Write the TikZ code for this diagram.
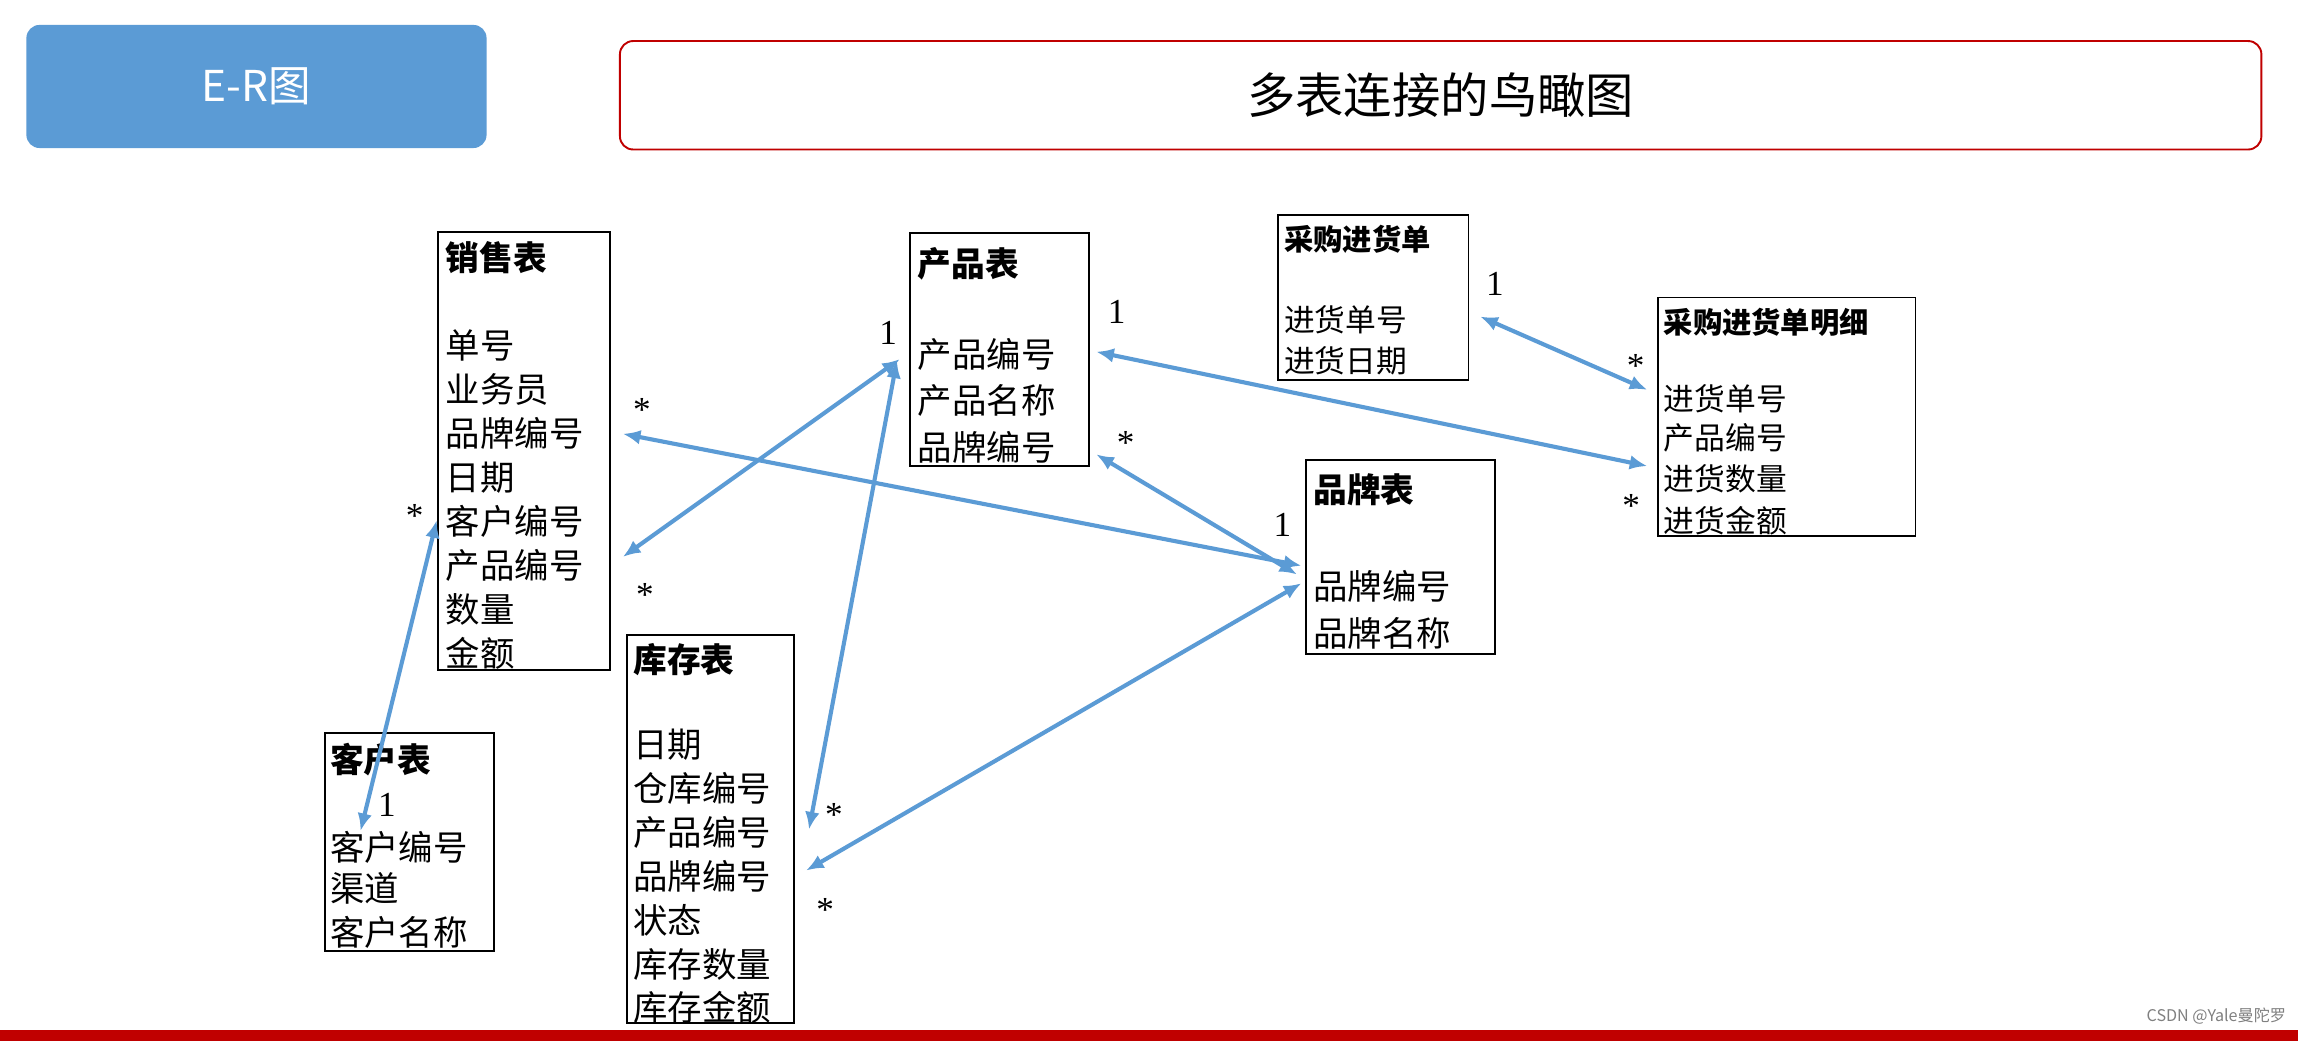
\documentclass[tikz,border=0pt]{standalone}
\usepackage{fontspec}
\setmainfont{Noto Sans CJK SC}
\newfontfamily\lblfont{Liberation Serif}
\usetikzlibrary{arrows.meta}
\definecolor{ablue}{HTML}{5B9BD5}
\definecolor{dred}{HTML}{C00000}
\begin{document}
\begin{tikzpicture}[x=1pt,y=-1pt,
  tbl/.style={draw=black,line width=1.3pt},
  row/.style={anchor=west,inner sep=0pt,font=\fontsize{23.5}{23.5}\selectfont},
  srow/.style={anchor=west,inner sep=0pt,font=\fontsize{21}{21}\selectfont},
  ttl/.style={anchor=west,inner sep=0pt,font=\fontsize{23}{23}\selectfont\bfseries},
  sttl/.style={anchor=west,inner sep=0pt,font=\fontsize{20}{20}\selectfont\bfseries},
  lbl/.style={inner sep=0pt,font=\fontsize{24}{24}\selectfont\lblfont},
  rel/.style={ablue,line width=2.8pt,{Latex[length=12pt,width=10pt]}-{Latex[length=12pt,width=10pt]}}]
\useasboundingbox (0,0) rectangle (1568,710);
\fill[white] (0,0) rectangle (1568,710);
% header
\node[fill=ablue,rounded corners=9pt,minimum width=314pt,minimum height=84pt,text=white,font=\fontsize{29}{29}\selectfont] (er) at (175,59) {E-R图};
\node[draw=dred,line width=1.3pt,rounded corners=9pt,minimum width=1120pt,minimum height=74pt,font=\fontsize{33}{33}\selectfont] (hd) at (983,65) {多表连接的鸟瞰图};
\fill[dred] (0,703) rectangle (1568,710);
\node[anchor=east,inner sep=0pt,text=gray,font=\fontsize{11}{11}\selectfont] (wm) at (1560,693) {CSDN @Yale曼陀罗};
% 销售表
\draw[tbl] (299,158) rectangle (416,457);
\node[ttl] (s0) at (304,176) {销售表};
\node[row] (s1) at (304,236) {单号};
\node[row] (s2) at (304,266) {业务员};
\node[row] (s3) at (304,296) {品牌编号};
\node[row] (s4) at (304,326) {日期};
\node[row] (s5) at (304,356) {客户编号};
\node[row] (s6) at (304,386) {产品编号};
\node[row] (s7) at (304,416) {数量};
\node[row] (s8) at (304,446) {金额};
% 产品表
\draw[tbl] (621,159) rectangle (743,318);
\node[ttl] (p0) at (626,180) {产品表};
\node[row] (p1) at (626,242) {产品编号};
\node[row] (p2) at (626,273) {产品名称};
\node[row] (p3) at (626,305) {品牌编号};
% 采购进货单
\draw[tbl] (872,147) rectangle (1002,259);
\node[sttl] (c0) at (876,163) {采购进货单};
\node[srow] (c1) at (876,218) {进货单号};
\node[srow] (c2) at (876,246) {进货日期};
% 明细
\draw[tbl] (1131,203) rectangle (1307,366);
\node[sttl] (m0) at (1135,220) {采购进货单明细};
\node[srow] (m1) at (1135,272) {进货单号};
\node[srow] (m2) at (1135,299) {产品编号};
\node[srow] (m3) at (1135,327) {进货数量};
\node[srow] (m4) at (1135,355) {进货金额};
% 品牌表
\draw[tbl] (891,314) rectangle (1020,446);
\node[ttl] (b0) at (896,334) {品牌表};
\node[row] (b1) at (896,400) {品牌编号};
\node[row] (b2) at (896,432) {品牌名称};
% 库存表
\draw[tbl] (428,433) rectangle (542,698);
\node[ttl] (k0) at (432,450) {库存表};
\node[row] (k1) at (432,508) {日期};
\node[row] (k2) at (432,538) {仓库编号};
\node[row] (k3) at (432,568) {产品编号};
\node[row] (k4) at (432,598) {品牌编号};
\node[row] (k5) at (432,628) {状态};
\node[row] (k6) at (432,658) {库存数量};
\node[row] (k7) at (432,687) {库存金额};
% 客户表
\draw[tbl] (222,500) rectangle (337,649);
\node[ttl] (u0) at (225,518) {客户表};
\node[row] (u1) at (225,578) {客户编号};
\node[row] (u2) at (225,606) {渠道};
\node[row] (u3) at (225,636) {客户名称};
% endpoints
\coordinate (a1) at (298,355); \coordinate (a2) at (246,567);
\coordinate (b1e) at (425,296); \coordinate (b2e) at (888,386);
\coordinate (c1e) at (425,380); \coordinate (c2e) at (614,245);
\coordinate (d1) at (612,246); \coordinate (d2) at (552,566);
\coordinate (e1) at (748,310); \coordinate (e2) at (885,392);
\coordinate (f1) at (748,240); \coordinate (f2) at (1124,318);
\coordinate (g1) at (1010,216); \coordinate (g2) at (1124,266);
\coordinate (h1) at (888,398); \coordinate (h2) at (550,594);
\draw[rel] (a1) -- (a2);
\draw[rel] (b1e) -- (b2e);
\draw[rel] (c1e) -- (c2e);
\draw[rel] (d1) -- (d2);
\draw[rel] (e1) -- (e2);
\draw[rel] (f1) -- (f2);
\draw[rel] (g1) -- (g2);
\draw[rel] (h1) -- (h2);
% labels
\node[lbl] (l1) at (283,352) {*};
\node[lbl] (l2) at (264,549) {1};
\node[lbl] (l3) at (438,280) {*};
\node[lbl] (l4) at (875,358) {1};
\node[lbl] (l5) at (440,406) {*};
\node[lbl] (l6) at (606,227) {1};
\node[lbl] (l7) at (569,556) {*};
\node[lbl] (l8) at (768,302) {*};
\node[lbl] (l9) at (762,213) {1};
\node[lbl] (l10) at (1113,345) {*};
\node[lbl] (l11) at (1020,194) {1};
\node[lbl] (l12) at (1116,250) {*};
\node[lbl] (l13) at (563,621) {*};
\end{tikzpicture}
\end{document}
